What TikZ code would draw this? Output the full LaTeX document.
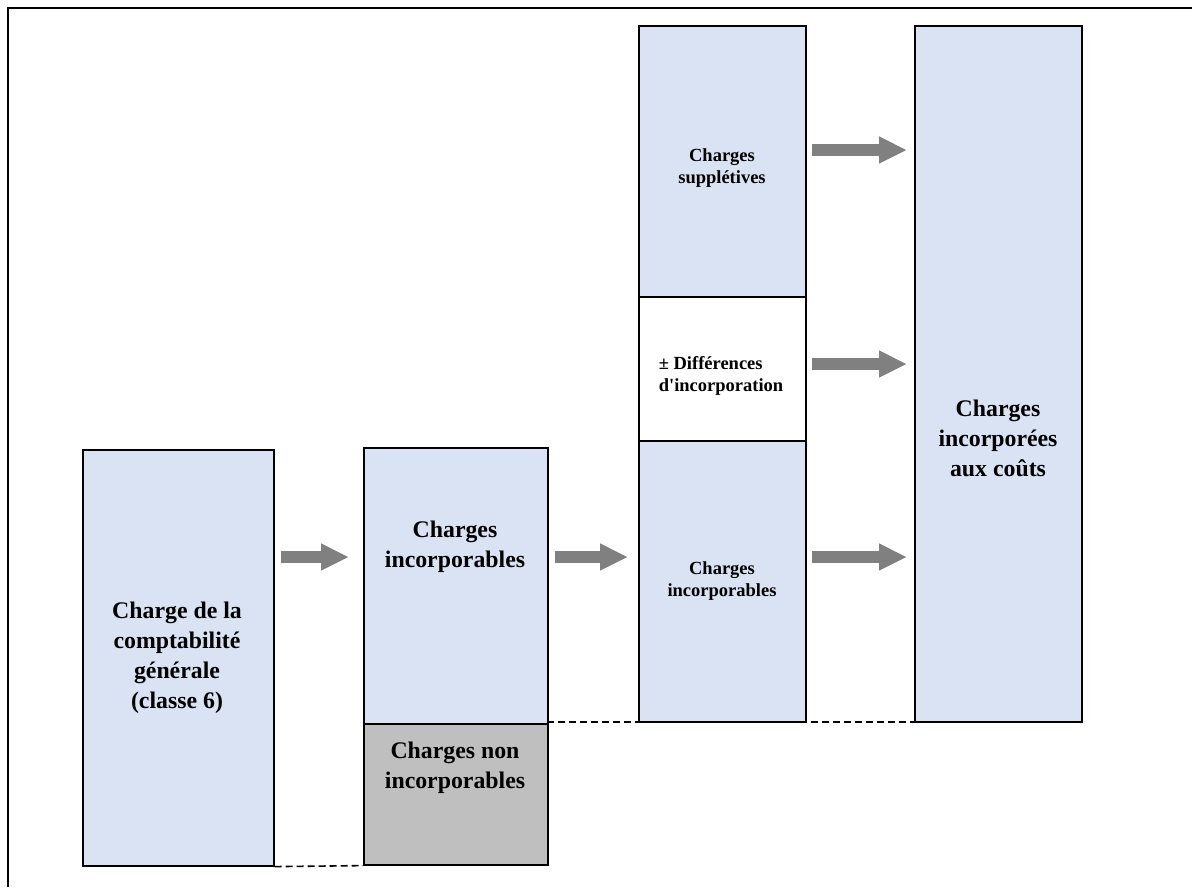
\documentclass[tikz,border=0pt]{standalone}
\usepackage{fontspec}
\setmainfont{Liberation Serif}
\usetikzlibrary{arrows.meta}
\definecolor{boxblue}{HTML}{DAE3F3}
\definecolor{boxgray}{HTML}{BFBFBF}
\definecolor{arrowgray}{HTML}{808080}
\tikzset{
  box/.style={draw=black, line width=1.6pt, fill=boxblue, rectangle, inner sep=0pt, anchor=north west},
  bigtxt/.style={font=\bfseries\fontsize{23.8}{30}\selectfont, align=center, inner sep=0pt},
  smalltxt/.style={font=\bfseries\fontsize{18.5}{21.5}\selectfont, align=center, inner sep=0pt},
  bigarrow/.style={draw=arrowgray, line width=12.5pt, -{Triangle[length=28pt,width=25pt]}},
  dashline/.style={draw=black, line width=1.6pt, dash pattern=on 7pt off 4pt},
  frame/.style={draw=black, line width=2pt}
}
\begin{document}
\begin{tikzpicture}[x=1pt,y=-1pt]
\useasboundingbox (0,0) rectangle (1192,887);
% frame (only top and left sides visible)
\coordinate (fTR) at (1192,8);
\coordinate (fTL) at (8,8);
\coordinate (fBL) at (8,887);
\draw[frame] (fTR) -- (fTL) -- (fBL);

% dashed guide lines (behind the boxes)
\coordinate (d1) at (547,722);
\coordinate (d2) at (914,722);
\draw[dashline] (d1) -- (d2);

% boxes
\node[box, minimum width=191pt, minimum height=416pt] (b1) at (82,449) {};
\node[box, minimum width=184pt, minimum height=276pt] (b2) at (363,447) {};
\node[box, fill=boxgray, minimum width=184pt, minimum height=141pt] (b3) at (363,723) {};
\node[box, minimum width=167pt, minimum height=271pt] (b4) at (638,25) {};
\node[box, minimum width=167pt, minimum height=281pt] (b6) at (638,440) {};
\node[box, fill=white, minimum width=167pt, minimum height=144pt] (b5) at (638,296) {};
\node[box, minimum width=167pt, minimum height=696pt] (b7) at (914,25) {};

\draw[dashline] (b1.south east) -- (b3.south west);

% texts
\node[bigtxt] (t1) at (177,658) {Charge de la\\comptabilité\\générale\\(classe 6)};
\node[bigtxt] (t2) at (455,547) {Charges\\incorporables};
\node[bigtxt] (t3) at (455,768) {Charges non\\incorporables};
\node[smalltxt] (t4) at (722,168) {Charges\\supplétives};
\node[smalltxt, align=left] (t5) at (721,376) {± Différences\\d\textquotesingle incorporation};
\node[smalltxt] (t6) at (722,581) {Charges\\incorporables};
\node[bigtxt] (t7) at (998,438) {Charges\\incorporées\\aux coûts};

% arrows
\coordinate (yA) at (0,557);
\coordinate (yB) at (0,364);
\coordinate (yC) at (0,150);
\draw[bigarrow, shorten <=6pt, shorten >=14pt] (b1.east |- yA) -- (b2.west |- yA);
\draw[bigarrow, shorten <=6pt, shorten >=10pt] (b2.east |- yA) -- (b6.west |- yA);
\draw[bigarrow, shorten <=5pt, shorten >=7pt] (b6.east |- yA) -- (b7.west |- yA);
\draw[bigarrow, shorten <=5pt, shorten >=7pt] (b5.east |- yB) -- (b7.west |- yB);
\draw[bigarrow, shorten <=5pt, shorten >=7pt] (b4.east |- yC) -- (b7.west |- yC);
\end{tikzpicture}
\end{document}
